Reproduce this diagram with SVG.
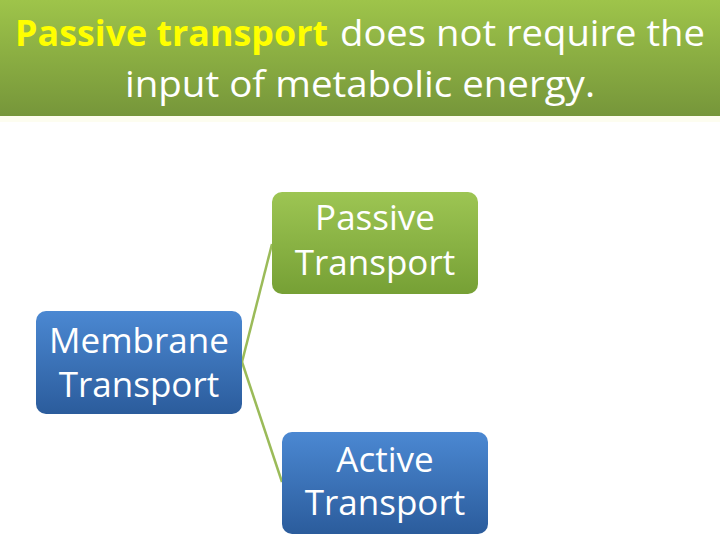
<svg xmlns="http://www.w3.org/2000/svg" width="720" height="540" viewBox="0 0 720 540">
<defs>
<linearGradient id="gTitle" x1="0" y1="0" x2="0" y2="1">
<stop offset="0" stop-color="#9ec44a"/>
<stop offset="1" stop-color="#76963a"/>
</linearGradient>
<linearGradient id="gGreen" x1="0" y1="0" x2="0" y2="1">
<stop offset="0" stop-color="#9dc553"/>
<stop offset="1" stop-color="#76a035"/>
</linearGradient>
<linearGradient id="gBlue" x1="0" y1="0" x2="0" y2="1">
<stop offset="0" stop-color="#4b88d2"/>
<stop offset="1" stop-color="#2b5c9c"/>
</linearGradient>
<style>
.title{font-family:"Open Sans","Liberation Sans",sans-serif;font-size:36px;fill:#ffffff}
.hl{fill:#ffff00;font-weight:bold}
.lbl{font-family:"Open Sans","Liberation Sans",sans-serif;font-size:35px;fill:#ffffff;text-anchor:middle}
.conn{stroke:#9bbb59;stroke-width:2.5;fill:none}
</style>
</defs>
<rect x="0" y="0" width="720" height="540" fill="#ffffff"/>
<g id="title">
<rect x="0" y="0" width="720" height="116" fill="url(#gTitle)"/>
<rect x="0" y="116" width="720" height="6" fill="#fdfdf0"/>
<text class="title hl" x="15" y="46" textLength="313" lengthAdjust="spacingAndGlyphs">Passive transport</text>
<text class="title" x="340" y="46" textLength="365" lengthAdjust="spacingAndGlyphs">does not require the</text>
<text class="title" x="125" y="97" textLength="470" lengthAdjust="spacingAndGlyphs">input of metabolic energy.</text>
</g>
<g id="connectors">
<line class="conn" x1="242" y1="362" x2="272" y2="244"/>
<line class="conn" x1="242" y1="362" x2="282" y2="482"/>
</g>
<g id="node-passive">
<rect x="272" y="192" width="206" height="102" rx="10" fill="url(#gGreen)"/>
<text class="lbl" x="375" y="230">Passive</text>
<text class="lbl" x="375" y="275">Transport</text>
</g>
<g id="node-membrane">
<rect x="36" y="311" width="206" height="103" rx="10" fill="url(#gBlue)"/>
<text class="lbl" x="139" y="353">Membrane</text>
<text class="lbl" x="139" y="397">Transport</text>
</g>
<g id="node-active">
<rect x="282" y="432" width="206" height="102" rx="10" fill="url(#gBlue)"/>
<text class="lbl" x="385" y="472">Active</text>
<text class="lbl" x="385" y="515">Transport</text>
</g>
</svg>
